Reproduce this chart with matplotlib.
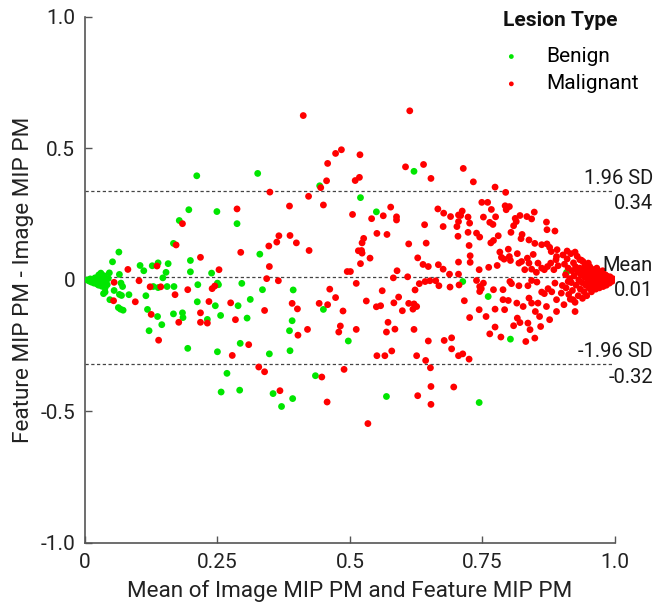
import numpy as np
import matplotlib
matplotlib.use("Agg")
import matplotlib.pyplot as plt

plt.rcParams['font.family'] = ['Roboto', 'DejaVu Sans']

# Bland-Altman values (x = mean of the two, y = difference)
benign_x = [0.211, 0.326, 0.196, 0.249, 0.178, 0.287, 0.167, 0.330, 0.064, 0.052,
            0.199, 0.104, 0.111, 0.138, 0.157, 0.127, 0.199, 0.153, 0.147, 0.046,
            0.065, 0.030, 0.026, 0.068, 0.071, 0.035, 0.038, 0.055, 0.065, 0.069,
            0.083, 0.047, 0.063, 0.067, 0.072, 0.115, 0.129, 0.138, 0.155, 0.168,
            0.118, 0.137, 0.145, 0.121, 0.167, 0.184, 0.185, 0.213, 0.212, 0.246,
            0.256, 0.231, 0.250, 0.252, 0.296, 0.289, 0.312, 0.306, 0.194, 0.250,
            0.293, 0.268, 0.257, 0.292, 0.239,
            0.335, 0.348, 0.355, 0.371, 0.621, 0.443, 0.520, 0.550, 0.393, 0.450,
            0.391, 0.386, 0.387, 0.497, 0.435, 0.392, 0.569,
            0.713, 0.761, 0.803, 0.744, 0.909,
            0.004, 0.008, 0.010, 0.012, 0.015, 0.017, 0.019, 0.021, 0.023, 0.025,
            0.026, 0.028, 0.030, 0.032, 0.034, 0.036, 0.038, 0.040, 0.042, 0.044]
benign_y = [0.396, 0.405, 0.267, 0.260, 0.226, 0.214, 0.139, 0.098, 0.106, 0.069,
            0.074, 0.055, 0.035, 0.065, 0.062, 0.054, 0.031, 0.029, 0.008, 0.027,
            0.021, 0.026, 0.019, -0.012, -0.025, -0.052, -0.046, -0.040, -0.055, -0.059,
            -0.056, -0.075, -0.105, -0.111, -0.115, -0.060, -0.025, -0.029, -0.025, -0.025,
            -0.112, -0.139, -0.170, -0.193, -0.129, -0.125, -0.143, -0.018, -0.083, -0.098,
            -0.135, -0.150, -0.012, -0.018, -0.013, -0.098, -0.074, -0.145, -0.260, -0.273,
            -0.241, -0.355, -0.426, -0.419, 0.026,
            -0.037, -0.281, -0.432, -0.481, 0.413, 0.358, 0.313, 0.259, -0.038, -0.112,
            -0.155, -0.193, -0.269, -0.232, -0.364, -0.451, -0.443,
            -0.006, -0.063, -0.225, -0.466, 0.029,
            0.000, -0.004, 0.004, -0.008, 0.002, -0.012, 0.008, -0.004, -0.016, 0.010,
            -0.020, -0.008, 0.002, -0.024, -0.012, 0.016, -0.030, -0.004, -0.018, 0.006]

malignant_x = [0.184, 0.172, 0.294, 0.218, 0.136, 0.081, 0.253, 0.287, 0.102, 0.055,
               0.123, 0.143, 0.170, 0.194, 0.240, 0.245, 0.054, 0.095, 0.125, 0.139,
               0.177, 0.218, 0.218, 0.231, 0.234, 0.275, 0.284, 0.309, 0.278, 0.328,
               0.349, 0.347, 0.362, 0.366, 0.348, 0.343, 0.365, 0.339, 0.339, 0.368,
               0.412, 0.613, 0.458, 0.473, 0.484, 0.519, 0.605, 0.639, 0.653, 0.456,
               0.510, 0.518, 0.445, 0.422, 0.386, 0.450, 0.505, 0.541, 0.563, 0.577,
               0.588, 0.588, 0.666, 0.677, 0.690, 0.705, 0.676, 0.702, 0.705, 0.641,
               0.551, 0.570, 0.526, 0.523, 0.516, 0.522, 0.523, 0.538, 0.520, 0.611,
               0.644, 0.628, 0.638, 0.648, 0.667, 0.676, 0.705, 0.705, 0.688, 0.387,
               0.399, 0.423, 0.495, 0.501, 0.512, 0.589, 0.582, 0.609, 0.631, 0.642,
               0.651, 0.662, 0.668, 0.689, 0.706, 0.462, 0.473, 0.442, 0.458, 0.391,
               0.401, 0.487, 0.531, 0.550, 0.558, 0.561, 0.583, 0.592, 0.599, 0.611,
               0.621, 0.626, 0.619, 0.623, 0.420, 0.402, 0.482, 0.479, 0.512, 0.572,
               0.569, 0.585, 0.621, 0.648, 0.678, 0.692, 0.692, 0.705, 0.551, 0.566,
               0.579, 0.626, 0.643, 0.652, 0.489, 0.447, 0.653, 0.696, 0.457, 0.628,
               0.653, 0.534,
               0.714, 0.733, 0.774, 0.794, 0.749, 0.760, 0.767, 0.793, 0.801, 0.795,
               0.712, 0.709, 0.723, 0.726, 0.752, 0.775, 0.764, 0.770, 0.814, 0.821,
               0.834, 0.848, 0.809, 0.812, 0.843, 0.871, 0.872, 0.887, 0.723, 0.739,
               0.745, 0.780, 0.766, 0.771, 0.804, 0.825, 0.823, 0.838, 0.849, 0.862,
               0.872, 0.877, 0.880, 0.891, 0.725, 0.727, 0.727, 0.783, 0.786, 0.799,
               0.801, 0.791, 0.803, 0.816, 0.819, 0.824, 0.835, 0.838, 0.846, 0.855,
               0.762, 0.778, 0.744, 0.830, 0.843, 0.852, 0.862, 0.867, 0.873, 0.879,
               0.885, 0.889, 0.890, 0.893, 0.910, 0.925, 0.934, 0.940, 0.950,
               0.739, 0.745, 0.752, 0.745, 0.748, 0.716, 0.771, 0.789, 0.802, 0.805,
               0.789, 0.799, 0.819, 0.836, 0.843, 0.853, 0.862, 0.867, 0.874, 0.881,
               0.815, 0.827, 0.838, 0.843, 0.855, 0.850, 0.858, 0.871, 0.890, 0.899,
               0.904, 0.916, 0.921, 0.925, 0.726, 0.744, 0.757, 0.774, 0.816, 0.821,
               0.809, 0.836, 0.840, 0.877, 0.774, 0.764, 0.785, 0.832, 0.849, 0.713,
               0.725, 0.704, 0.890, 0.792, 0.860, 0.887, 0.901, 0.912,
               0.902, 0.905, 0.907, 0.908, 0.910, 0.912, 0.913, 0.915, 0.917, 0.918,
               0.919, 0.920, 0.922, 0.923, 0.925, 0.926, 0.927, 0.929, 0.930, 0.931,
               0.932, 0.934, 0.935, 0.936, 0.937, 0.938, 0.939, 0.941, 0.942, 0.943,
               0.944, 0.945, 0.946, 0.947, 0.948, 0.949, 0.951, 0.952, 0.953, 0.954,
               0.955, 0.956, 0.957, 0.958, 0.959, 0.961, 0.962, 0.963, 0.964, 0.965,
               0.966, 0.967, 0.968, 0.969, 0.971, 0.972, 0.973, 0.974, 0.975, 0.976,
               0.977, 0.978, 0.980, 0.981, 0.982, 0.983, 0.984, 0.985, 0.987, 0.988,
               0.990, 0.991, 0.993, 0.995, 0.996]
malignant_y = [0.214, 0.133, 0.105, 0.086, 0.053, 0.040, 0.039, 0.270, -0.003, -0.009,
               -0.026, -0.026, -0.056, -0.037, -0.033, -0.023, -0.079, -0.083, -0.131, -0.229,
               -0.161, -0.125, -0.161, -0.164, -0.082, -0.087, -0.151, -0.246, -0.287, -0.331,
               0.334, 0.129, 0.144, 0.168, 0.051, 0.005, -0.003, -0.116, -0.349, -0.421,
               0.625, 0.643, 0.443, 0.481, 0.495, 0.476, 0.430, 0.439, 0.386, 0.377,
               0.378, 0.390, 0.351, 0.318, 0.281, 0.285, 0.249, 0.233, 0.244, 0.277,
               0.240, 0.228, 0.270, 0.254, 0.241, 0.247, 0.203, 0.203, 0.222, 0.210,
               0.177, 0.173, 0.158, 0.141, 0.111, 0.112, 0.102, 0.083, 0.062, 0.137,
               0.140, 0.084, 0.059, 0.051, 0.058, 0.041, 0.068, 0.022, 0.022, 0.169,
               0.141, 0.112, 0.032, 0.032, -0.013, 0.035, 0.008, 0.012, -0.014, -0.006,
               -0.003, -0.003, -0.022, -0.027, -0.019, -0.035, -0.067, -0.089, -0.094, -0.089,
               -0.110, -0.118, -0.080, -0.102, -0.098, -0.041, -0.087, -0.065, -0.117, -0.089,
               -0.091, -0.101, -0.111, -0.038, -0.188, -0.210, -0.175, -0.198, -0.188, -0.161,
               -0.198, -0.187, -0.188, -0.232, -0.230, -0.220, -0.262, -0.288, -0.288, -0.288,
               -0.270, -0.288, -0.306, -0.334, -0.340, -0.369, -0.405, -0.407, -0.464, -0.440,
               -0.473, -0.546,
               0.424, 0.373, 0.353, 0.333, 0.295, 0.295, 0.268, 0.282, 0.279, 0.267,
               0.262, 0.245, 0.239, 0.216, 0.239, 0.240, 0.219, 0.211, 0.222, 0.245,
               0.241, 0.258, 0.206, 0.234, 0.232, 0.220, 0.191, 0.186, 0.181, 0.178,
               0.163, 0.168, 0.141, 0.150, 0.181, 0.173, 0.157, 0.152, 0.139, 0.134,
               0.137, 0.124, 0.108, 0.115, 0.131, 0.092, 0.067, 0.106, 0.086, 0.117,
               0.089, 0.079, 0.074, 0.100, 0.064, 0.070, 0.083, 0.064, 0.097, 0.064,
               0.048, 0.055, 0.039, 0.039, 0.041, 0.029, 0.045, 0.039, 0.051, 0.064,
               0.039, 0.077, 0.089, 0.054, 0.110, 0.106, 0.077, 0.070, 0.064,
               -0.002, -0.025, -0.012, -0.044, -0.033, -0.079, -0.037, -0.037, -0.006, -0.014,
               -0.075, -0.078, -0.022, -0.022, -0.002, -0.008, -0.046, -0.052, -0.033, -0.045,
               -0.088, -0.101, -0.069, -0.088, -0.088, -0.120, -0.139, -0.101, -0.075, -0.050,
               -0.094, -0.073, -0.075, -0.120, -0.143, -0.113, -0.139, -0.111, -0.145, -0.162,
               -0.174, -0.164, -0.189, -0.151, -0.179, -0.205, -0.217, -0.234, -0.221, -0.281,
               -0.301, 0.166, -0.120, -0.113, -0.177, -0.012, -0.021, -0.006,
               0.095, 0.060, 0.020, -0.030, 0.080, 0.045, -0.055, 0.005, 0.100, -0.010,
               0.035, -0.040, 0.065, 0.015, -0.085, 0.050, -0.020, 0.090, 0.030, -0.060,
               0.000, 0.045, -0.035, 0.020, 0.075, -0.010, -0.070, 0.035, -0.045, 0.010,
               0.055, -0.020, 0.025, -0.060, 0.040, 0.000, -0.030, 0.015, 0.050, -0.010,
               0.030, -0.045, 0.005, 0.040, -0.025, 0.020, -0.010, 0.035, -0.035, 0.010,
               0.045, -0.020, 0.025, 0.000, -0.030, 0.030, 0.010, -0.015, 0.020, -0.005,
               0.035, -0.025, 0.010, -0.010, 0.020, 0.000, -0.020, 0.015, -0.005, 0.005,
               -0.012, 0.012, 0.000, -0.005, 0.005]

mean_diff = 0.01
upper_loa = 0.34
lower_loa = -0.32

x_ticks = [0, 0.25, 0.5, 0.75, 1.0]
x_tick_labels = ["0", "0.25", "0.5", "0.75", "1.0"]
y_ticks = [-1.0, -0.5, 0, 0.5, 1.0]
y_tick_labels = ["-1.0", "-0.5", "0", "0.5", "1.0"]

fig = plt.figure(figsize=(6.69, 6.04), dpi=100)
ax = fig.add_axes([0.127, 0.101, 0.792, 0.871])

green = "#00e600"
red = "#ff0000"
ax.scatter(benign_x, benign_y, s=24, color=green, edgecolors="none", label="Benign", zorder=3)
ax.scatter(malignant_x, malignant_y, s=24, color=red, edgecolors="none", label="Malignant", zorder=3)

# reference lines
for yv in [upper_loa, mean_diff, lower_loa]:
    ax.plot([0, 0.995], [yv, yv], color="#444444", lw=0.9, ls=(0, (2.6, 2.0)), zorder=2)

txt_x = 1.072
fs = 14.5
tc = "#1a1a1a"
ax.text(txt_x, upper_loa + 0.01, "1.96 SD", ha="right", va="bottom", fontsize=fs, color=tc, clip_on=False, zorder=4)
ax.text(txt_x, upper_loa - 0.013, f"{upper_loa:.2f}", ha="right", va="top", fontsize=fs, color=tc, clip_on=False, zorder=4)
ax.text(txt_x, mean_diff + 0.01, "Mean", ha="right", va="bottom", fontsize=fs, color=tc, clip_on=False, zorder=4)
ax.text(txt_x, mean_diff - 0.013, f"{mean_diff:.2f}", ha="right", va="top", fontsize=fs, color=tc, clip_on=False, zorder=4)
ax.text(txt_x, lower_loa + 0.01, "-1.96 SD", ha="right", va="bottom", fontsize=fs, color=tc, clip_on=False, zorder=4)
ax.text(txt_x, lower_loa - 0.013, f"{lower_loa:.2f}", ha="right", va="top", fontsize=fs, color=tc, clip_on=False, zorder=4)

ax.set_xlim(0, 1.0)
ax.set_ylim(-1.0, 1.0)
ax.set_xticks(x_ticks)
ax.set_xticklabels(x_tick_labels)
ax.set_yticks(y_ticks)
ax.set_yticklabels(y_tick_labels)
ax.tick_params(direction="in", length=5, width=1, colors="#555555", labelcolor="#222222", labelsize=15)
ax.tick_params(axis="y", pad=7)
ax.tick_params(axis="x", pad=7)

for side in ["top", "right"]:
    ax.spines[side].set_visible(False)
for side in ["left", "bottom"]:
    ax.spines[side].set_color("#555555")
    ax.spines[side].set_linewidth(1.2)

ax.set_xlabel("Mean of Image MIP PM and Feature MIP PM", fontsize=16.2, color="#222222", labelpad=6)
ax.set_ylabel("Feature MIP PM - Image MIP PM", fontsize=16.2, color="#222222", labelpad=5)

# legend: title drawn separately so the gap below it can match
fig.text(503 / 669, 1 - 20 / 604, "Lesion Type", ha="left", va="center",
         fontsize=15, fontweight="bold", color="#111111")
leg = ax.legend(loc="upper left", bbox_to_anchor=(503 / 669, 1 - 47 / 604), bbox_transform=fig.transFigure,
                frameon=False, fontsize=15, markerscale=0.7, borderaxespad=0, borderpad=0,
                handlelength=0.8, handletextpad=1.3, labelspacing=0.4)

fig.savefig("out.png", dpi=100)
